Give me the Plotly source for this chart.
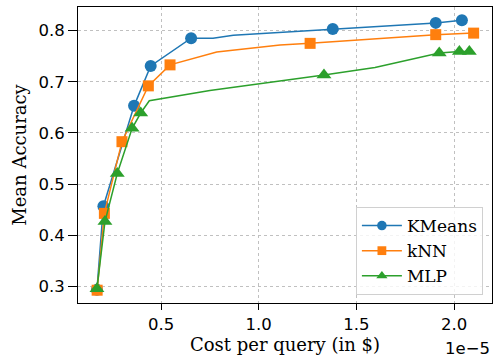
import plotly.graph_objects as go

# Data (cost in $ per query, accuracy). Marker flags: 1 = marker shown, 0 = line vertex only
kmeans_cost = [0.172e-5, 0.205e-5, 0.362e-5, 0.447e-5, 0.654e-5, 0.766e-5, 0.87e-5, 1.379e-5, 1.906e-5, 2.040e-5]
kmeans_acc = [0.294, 0.457, 0.653, 0.731, 0.785, 0.785, 0.791, 0.803, 0.815, 0.820]
kmeans_mark = [1, 1, 1, 1, 1, 0, 0, 1, 1, 1]

knn_cost = [0.173e-5, 0.210e-5, 0.300e-5, 0.435e-5, 0.546e-5, 0.785e-5, 1.109e-5, 1.263e-5, 1.906e-5, 2.100e-5]
knn_acc = [0.293, 0.443, 0.583, 0.692, 0.733, 0.758, 0.772, 0.775, 0.792, 0.795]
knn_mark = [1, 1, 1, 1, 1, 0, 0, 1, 1, 1]

mlp_cost = [0.172e-5, 0.213e-5, 0.276e-5, 0.352e-5, 0.396e-5, 0.440e-5, 0.75e-5, 1.334e-5, 1.595e-5, 1.924e-5, 2.027e-5, 2.078e-5]
mlp_acc = [0.296, 0.427, 0.521, 0.609, 0.639, 0.663, 0.683, 0.713, 0.728, 0.756, 0.759, 0.759]
mlp_mark = [1, 1, 1, 1, 1, 0, 0, 1, 0, 1, 1, 1]

x_ticks = [0.5e-5, 1.0e-5, 1.5e-5, 2.0e-5]
x_tick_labels = ["0.5", "1.0", "1.5", "2.0"]
y_ticks = [0.3, 0.4, 0.5, 0.6, 0.7, 0.8]
y_tick_labels = ["0.3", "0.4", "0.5", "0.6", "0.7", "0.8"]

SERIF = "DejaVu Serif"
SANS = "DejaVu Sans"
TITLE_FS = 18
TICK_FS = 16.5
LEG_FS = 17

series = [
    ("KMeans", kmeans_cost, kmeans_acc, kmeans_mark, "#1f77b4", "circle", 12),
    ("kNN", knn_cost, knn_acc, knn_mark, "#ff7f0e", "square", 11),
    ("MLP", mlp_cost, mlp_acc, mlp_mark, "#2ca02c", "triangle-up", 13),
]

fig = go.Figure()
for name, xs, ys, marks, color, sym, sz in series:
    fig.add_trace(go.Scatter(
        x=xs, y=ys, name=name, mode="lines+markers",
        line=dict(color=color, width=1.5),
        marker=dict(color=color, symbol=sym, size=[sz if m else 0 for m in marks],
                    opacity=1, line=dict(width=0)),
    ))

axis_common = dict(
    showline=True, mirror=True, linecolor="black", linewidth=1.1,
    ticks="outside", tickwidth=1.1, tickcolor="black",
    showgrid=True, gridcolor="#c0c0c0", griddash="dot", gridwidth=1,
    zeroline=False, automargin=False,
    tickfont=dict(family=SANS, size=TICK_FS, color="black"),
)

fig.update_layout(
    width=493, height=360,
    margin=dict(l=78, r=1, t=7, b=57),
    paper_bgcolor="white", plot_bgcolor="white",
    font=dict(family=SERIF, size=TITLE_FS, color="black"),
    xaxis=dict(range=[0.075e-5, 2.194e-5], tickvals=x_ticks, ticktext=x_tick_labels, ticklen=6,
               title=dict(text="Cost per query (in $)", font=dict(family=SERIF, size=TITLE_FS), standoff=5),
               **axis_common),
    yaxis=dict(range=[0.268, 0.846], tickvals=y_ticks, ticktext=y_tick_labels, ticklen=9,
               title=dict(text="Mean Accuracy", font=dict(family=SERIF, size=TITLE_FS), standoff=7),
               **axis_common),
    legend=dict(x=0.978, y=0.027, xanchor="right", yanchor="bottom",
                bgcolor="rgba(255,255,255,0.8)", bordercolor="#d0d0d0", borderwidth=1,
                font=dict(family=SERIF, size=LEG_FS), tracegroupgap=0, itemwidth=40),
    showlegend=True,
)

fig.add_annotation(text="1e\u22125", xref="paper", yref="paper", x=1.0, y=-0.154,
                   xanchor="right", yanchor="middle", showarrow=False,
                   font=dict(family=SANS, size=TICK_FS, color="black"))

fig.write_html("out.html", config={"displayModeBar": False},
               post_script="document.body.style.margin='0px';")
